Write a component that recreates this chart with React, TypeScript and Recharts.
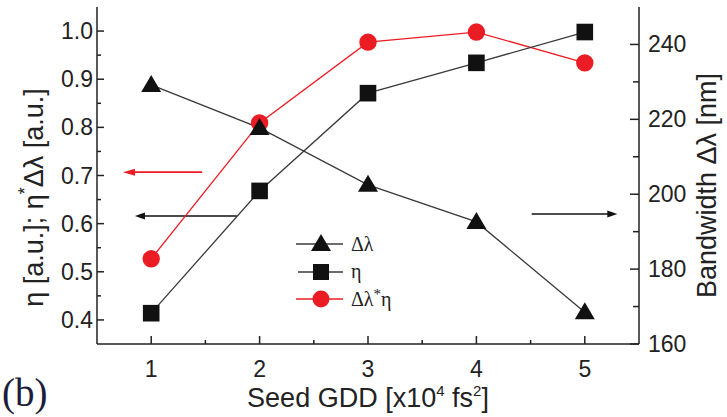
import React from 'react';
import { LineChart, Line, XAxis, YAxis, ReferenceLine, Legend, Label } from 'recharts';

// seed GDD in units of 1e4 fs^2
const gdd = [1, 2, 3, 4, 5];
const bandwidth = [229.2, 217.7, 202.5, 192.6, 168.5]; // nm, right axis
const eta = [0.414, 0.668, 0.871, 0.934, 0.998];
const etaBandwidth = [0.527, 0.809, 0.977, 0.998, 0.934];

const gddTicks = [1, 1.5, 2, 2.5, 3, 3.5, 4, 4.5, 5];
const etaTicks = [0.4, 0.45, 0.5, 0.55, 0.6, 0.65, 0.7, 0.75, 0.8, 0.85, 0.9, 0.95, 1.0];
const bwTicks = [160, 170, 180, 190, 200, 210, 220, 230, 240];

const data = gdd.map((g, i) => ({ gdd: g, bw: bandwidth[i], eta: eta[i], prod: etaBandwidth[i] }));

const INK = '#222';
const LINE = '#3a3a3a';
const RED = '#ec1c24';
const FONT = '"Liberation Sans", Arial, sans-serif';
const SERIF = '"Liberation Serif", "Times New Roman", serif';

const isMult = (v: number, step: number) => Math.abs(v / step - Math.round(v / step)) < 1e-6;

const BottomTick = (p: any) => {
  const v = p.payload.value;
  const major = isMult(v, 1);
  return (
    <g>
      <line x1={p.x} y1={p.y} x2={p.x} y2={p.y - (major ? 8 : 4)} stroke={INK} strokeWidth={1.5} />
      {major && <text x={p.x} y={p.y + 33} textAnchor="middle" fontSize={23} fill={INK}>{v}</text>}
    </g>
  );
};

const TopTick = (p: any) => {
  const major = isMult(p.payload.value, 1);
  return <line x1={p.x} y1={p.y} x2={p.x} y2={p.y + (major ? 8 : 4)} stroke={INK} strokeWidth={1.5} />;
};

const LeftTick = (p: any) => {
  const v = p.payload.value;
  const major = isMult(v, 0.1);
  return (
    <g>
      <line x1={p.x} y1={p.y} x2={p.x + (major ? 7 : 4)} y2={p.y} stroke={INK} strokeWidth={1.5} />
      {major && <text x={p.x - 4} y={p.y + 8} textAnchor="end" fontSize={23} fill={INK}>{v.toFixed(1)}</text>}
    </g>
  );
};

const RightTick = (p: any) => {
  const v = p.payload.value;
  const major = isMult(v, 20);
  return (
    <g>
      <line x1={p.x} y1={p.y} x2={p.x - (major ? 9 : 6)} y2={p.y} stroke={INK} strokeWidth={1.5} />
      {major && <text x={p.x + 9} y={p.y + 8} textAnchor="start" fontSize={23} fill={INK}>{v}</text>}
    </g>
  );
};

const triangle = (cx: number, cy: number, s = 1) =>
  `M${cx},${cy - 10 * s} L${cx + 10 * s},${cy + 7 * s} L${cx - 10 * s},${cy + 7 * s}Z`;

const TriDot = (p: any) => <path key={p.key} d={triangle(p.cx, p.cy)} fill="#111" />;
const SqDot = (p: any) => <rect key={p.key} x={p.cx - 8.3} y={p.cy - 8.3} width={16.6} height={16.6} fill="#111" />;
const CircDot = (p: any) => <circle key={p.key} cx={p.cx} cy={p.cy} r={8.7} fill={RED} />;

const arrow = (color: string, head: number) => (p: any) => {
  const { x1, y1, x2, y2 } = p;
  const dir = Math.sign(x2 - x1);
  return (
    <g>
      <line x1={x1} y1={y1} x2={x2 - dir * head * 0.6} y2={y2} stroke={color} strokeWidth={1.6} />
      <path d={`M${x2},${y2} L${x2 - dir * head},${y2 - 3.5} L${x2 - dir * head},${y2 + 3.5}Z`} fill={color} />
    </g>
  );
};

const LegendBox = () => (
  <svg width={110} height={84} style={{ overflow: 'visible', fontFamily: SERIF }}>
    <g fontSize={20} fill={INK}>
      <line x1={6} y1={14} x2={53} y2={14} stroke={LINE} strokeWidth={1.4} />
      <path d={triangle(31, 14)} fill="#111" />
      <text x={61} y={21} fontFamily={SERIF}>Δλ</text>
      <line x1={8} y1={42} x2={53} y2={42} stroke={LINE} strokeWidth={1.4} />
      <rect x={23} y={34} width={16} height={16} fill="#111" />
      <text x={61} y={48} fontFamily={SERIF}>η</text>
      <line x1={6} y1={69} x2={53} y2={69} stroke={RED} strokeWidth={1.4} />
      <circle cx={31} cy={69} r={8.5} fill={RED} />
      <text x={61} y={76} fontFamily={SERIF}>Δλ<tspan dy={-7} fontSize={15}>*</tspan><tspan dy={7}>η</tspan></text>
    </g>
  </svg>
);

export default function App() {
  return (
    <div style={{ position: 'absolute', left: 0, top: 0, width: 727, height: 417, background: '#fff' }}>
      <LineChart width={727} height={417} data={data} margin={{ top: 7, right: 0, bottom: 0, left: 0 }} style={{ fontFamily: FONT }}>
        <XAxis dataKey="gdd" type="number" domain={[0.5, 5.5]} ticks={gddTicks} interval={0} height={73}
          tickSize={0} tickMargin={0} tick={BottomTick} axisLine={{ stroke: INK, strokeWidth: 1.5 }} tickLine={false}>
          <Label content={(lp: any) => {
            const vb = lp.viewBox;
            return (
              <g>
                <text x={vb.x + vb.width / 2} y={vb.y + 63} textAnchor="middle" fontSize={27} fill={INK} fontFamily={FONT}>
                  Seed GDD [x10<tspan dy={-11} fontSize={15}>4</tspan><tspan dy={11}> fs</tspan><tspan dy={-11} fontSize={15}>2</tspan><tspan dy={11}>]</tspan>
                </text>
                <text x={2} y={406} fontSize={39} fill="#1c1c3c" fontFamily={SERIF}>(b)</text>
              </g>
            );
          }} />
        </XAxis>
        <XAxis xAxisId="top" orientation="top" dataKey="gdd" type="number" domain={[0.5, 5.5]} ticks={gddTicks} interval={0}
          height={0} tickSize={0} tickMargin={0} tick={TopTick} axisLine={{ stroke: INK, strokeWidth: 1.5 }} tickLine={false} />
        <YAxis yAxisId="left" type="number" domain={[0.35, 1.05]} ticks={etaTicks} interval={0} width={97}
          allowDataOverflow tickSize={0} tickMargin={0} tick={LeftTick} axisLine={{ stroke: INK, strokeWidth: 1.5 }} tickLine={false}>
          <Label content={(lp: any) => {
            const vb = lp.viewBox;
            const cx = vb.x + 34;
            const cy = vb.y + vb.height / 2 + 22;
            return (
              <text x={cx} y={cy} transform={`rotate(-90 ${cx} ${cy})`} textAnchor="middle" dominantBaseline="central"
                fontSize={27} fill={INK} fontFamily={FONT}>
                η [a.u.]; η<tspan dy={-9} fontSize={18}>*</tspan><tspan dy={9}>Δλ [a.u.]</tspan>
              </text>
            );
          }} />
        </YAxis>
        <YAxis yAxisId="right" orientation="right" type="number" domain={[160, 250]} ticks={bwTicks} interval={0} width={88}
          allowDataOverflow tickSize={0} tickMargin={0} tick={RightTick} axisLine={{ stroke: INK, strokeWidth: 1.5 }} tickLine={false}>
          <Label content={(lp: any) => {
            const vb = lp.viewBox;
            const cx = vb.x + 68;
            const cy = vb.y + vb.height / 2 + 10;
            return (
              <text x={cx} y={cy} transform={`rotate(-90 ${cx} ${cy})`} textAnchor="middle" dominantBaseline="central"
                fontSize={27} fill={INK} fontFamily={FONT}>
                Bandwidth Δλ [nm]
              </text>
            );
          }} />
        </YAxis>

        <ReferenceLine yAxisId="left" segment={[{ x: 1.47, y: 0.707 }, { x: 0.74, y: 0.707 }]} shape={arrow(RED, 12)} />
        <ReferenceLine yAxisId="left" segment={[{ x: 1.79, y: 0.616 }, { x: 0.85, y: 0.616 }]} shape={arrow('#111', 10)} />
        <ReferenceLine yAxisId="left" segment={[{ x: 4.51, y: 0.62 }, { x: 5.3, y: 0.62 }]} shape={arrow('#111', 10)} />

        <Line yAxisId="left" dataKey="prod" name="Δλ*η" stroke={RED} strokeWidth={1.3} dot={CircDot} isAnimationActive={false} />
        <Line yAxisId="left" dataKey="eta" name="η" stroke={LINE} strokeWidth={1.3} dot={SqDot} isAnimationActive={false} />
        <Line yAxisId="right" dataKey="bw" name="Δλ" stroke={LINE} strokeWidth={1.3} dot={TriDot} isAnimationActive={false} />

        <Legend layout="vertical" align="center" verticalAlign="middle" content={() => <LegendBox />}
          wrapperStyle={{ position: 'absolute', left: 290, top: 230, width: 110, height: 84 }} />
      </LineChart>
    </div>
  );
}
